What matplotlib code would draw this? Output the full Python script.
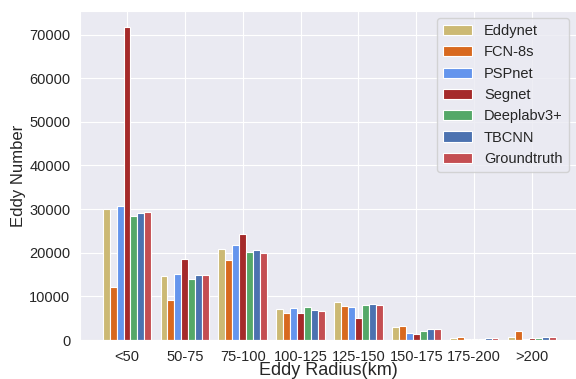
import matplotlib.pyplot as plt
import numpy as np
import seaborn as sns

sns.set_style('darkgrid')
plt.rcParams['font.family'] = ['Liberation Sans', 'DejaVu Sans']

# radius bins
categories = ['<50', '50-75', '75-100', '100-125', '125-150', '150-175', '175-200', '>200']
models = ['Eddynet', 'FCN-8s', 'PSPnet', 'Segnet', 'Deeplabv3+', 'TBCNN', 'Groundtruth']
colors = ['#ccb974', '#d8691f', '#6495ed', '#a52a2a', '#55a868', '#4c72b0', '#c44e52']

eddynet     = [30100, 14700, 20800, 7200, 8800, 2900, 500, 700]
fcn8s       = [12200,  9200, 18400, 6300, 7900, 3100, 750, 2150]
pspnet      = [30800, 15100, 21800, 7300, 7600, 1600, 300, 300]
segnet      = [71800, 18600, 24400, 6200, 5000, 1300, 250, 550]
deeplab     = [28400, 14050, 20200, 7600, 8000, 2050, 300, 550]
tbcnn       = [29200, 14800, 20600, 6900, 8300, 2500, 550, 700]
groundtruth = [29300, 14900, 19900, 6650, 7950, 2500, 550, 750]
values = [eddynet, fcn8s, pspnet, segnet, deeplab, tbcnn, groundtruth]

x = np.arange(len(categories))
w = 0.12

fig = plt.figure(figsize=(5.76, 3.79), dpi=100)
ax = fig.add_axes([80/576, 1-340/379, (576-80)/576, (340-11)/379])
for i, (name, vals) in enumerate(zip(models, values)):
    ax.bar(x + (i-3)*w, vals, w, label=name, color=colors[i],
           edgecolor='white', linewidth=0.8)

ax.set_xticks(x)
ax.set_xticklabels(categories, fontsize=10.5)
ax.tick_params(axis='y', labelsize=10.5)
ax.set_xlim(-0.812, 7.76)
ax.set_xlabel('Eddy Radius(km)', fontsize=13, labelpad=-1)
ax.set_ylabel('Eddy Number', fontsize=12, labelpad=2)
ax.legend(loc='upper right', frameon=True, fontsize=10.5)

fig.savefig('out.png', dpi=100)
